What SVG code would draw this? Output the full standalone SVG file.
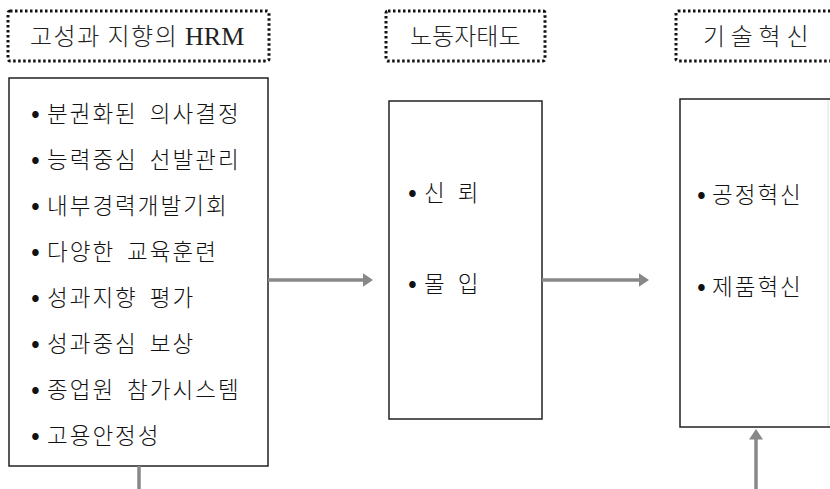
<svg xmlns="http://www.w3.org/2000/svg" width="830" height="489" viewBox="0 0 830 489">
<style>
.hdr{fill:none;stroke:#111;stroke-width:3;stroke-dasharray:2.5,2.5;}
.box{fill:#fff;stroke:#222;stroke-width:1.5;}
.t{font-family:"Noto Sans CJK KR","Liberation Serif",sans-serif;font-size:22.5px;fill:#111;font-weight:300;letter-spacing:2px;}
.ht{font-family:"Noto Sans CJK KR","Liberation Serif",sans-serif;font-size:24px;fill:#222;font-weight:300;letter-spacing:1.5px;}
.ser{font-family:"Liberation Serif",serif;font-size:26px;font-weight:400;letter-spacing:0;}
.b{font-size:26px;font-weight:400;letter-spacing:0;}
.c{fill:none;stroke:#888;stroke-width:3.5;}
</style>
<defs>
<marker id="ah" markerWidth="4" markerHeight="4" refX="1" refY="2" orient="auto" markerUnits="strokeWidth">
<path d="M0,0 L3,2 L0,4 Z" fill="#888"/>
</marker>
</defs>
<rect width="830" height="489" fill="#fff"/>

<g id="hdr-hrm">
<rect class="hdr" x="8" y="11" width="261" height="50" rx="2"/>
<text class="ht" x="30" y="45">고성과 지향의 <tspan class="ser">HRM</tspan></text>
</g>
<g id="hdr-attitude">
<rect class="hdr" x="386" y="11" width="159" height="50" rx="2"/>
<text class="ht" x="410" y="45" textLength="112" lengthAdjust="spacing">노동자태도</text>
</g>
<g id="hdr-innovation">
<rect class="hdr" x="676" y="11" width="170" height="50" rx="2"/>
<text class="ht" x="703" y="45" textLength="107" lengthAdjust="spacing">기 술 혁 신</text>
</g>

<g id="node-hrm">
<rect class="box" x="9" y="78" width="259" height="388"/>
<text class="t" x="31" y="122"><tspan class="b">•</tspan><tspan x="47">분권화된</tspan> <tspan dx="5">의사결정</tspan></text>
<text class="t" x="31" y="168"><tspan class="b">•</tspan><tspan x="47">능력중심</tspan> <tspan dx="5">선발관리</tspan></text>
<text class="t" x="31" y="214"><tspan class="b">•</tspan><tspan x="47">내부경력개발기회</tspan></text>
<text class="t" x="31" y="260"><tspan class="b">•</tspan><tspan x="47">다양한</tspan> <tspan dx="5">교육훈련</tspan></text>
<text class="t" x="31" y="306"><tspan class="b">•</tspan><tspan x="47">성과지향</tspan> <tspan dx="5">평가</tspan></text>
<text class="t" x="31" y="352"><tspan class="b">•</tspan><tspan x="47">성과중심</tspan> <tspan dx="5">보상</tspan></text>
<text class="t" x="31" y="398"><tspan class="b">•</tspan><tspan x="47">종업원</tspan> <tspan dx="5">참가시스템</tspan></text>
<text class="t" x="31" y="444"><tspan class="b">•</tspan><tspan x="47">고용안정성</tspan></text>
</g>

<g id="node-attitude">
<rect class="box" x="389" y="101" width="153" height="318"/>
<text class="t" x="408" y="201"><tspan class="b">•</tspan><tspan x="424">신</tspan> <tspan dx="4">뢰</tspan></text>
<text class="t" x="408" y="292"><tspan class="b">•</tspan><tspan x="424">몰</tspan> <tspan dx="4">입</tspan></text>
</g>

<g id="node-innovation">
<rect class="box" x="680" y="99" width="160" height="328"/>
<line x1="828" y1="100" x2="828" y2="426" stroke="#ddd" stroke-width="1"/>
<text class="t" x="697" y="203"><tspan class="b">•</tspan><tspan x="712">공정혁신</tspan></text>
<text class="t" x="697" y="295"><tspan class="b">•</tspan><tspan x="712">제품혁신</tspan></text>
</g>

<g id="connectors">
<line class="c" x1="268" y1="280" x2="366" y2="280" marker-end="url(#ah)"/>
<line class="c" x1="542" y1="280" x2="642" y2="280" marker-end="url(#ah)"/>
<line class="c" x1="139" y1="466" x2="139" y2="489"/>
<line class="c" x1="756" y1="489" x2="756" y2="436" marker-end="url(#ah)"/>
</g>
</svg>
